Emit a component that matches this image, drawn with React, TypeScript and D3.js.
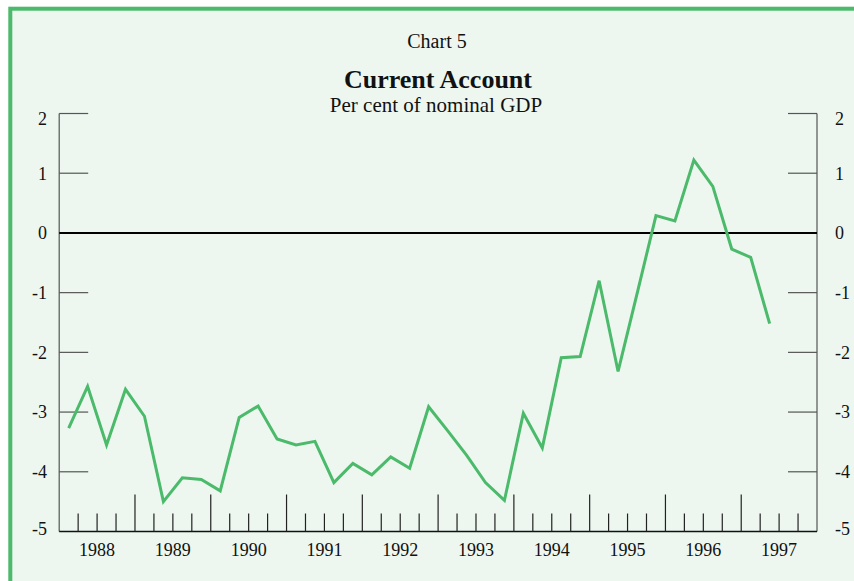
import React from 'react';
import * as d3 from 'd3';

// quarterly current account balance, per cent of nominal GDP (1988 Q1 .. 1997 Q2)
const years = [1988, 1989, 1990, 1991, 1992, 1993, 1994, 1995, 1996, 1997];
const balance = [
  -3.27, -2.57, -3.55, -2.62,
  -3.07, -4.50, -4.10, -4.13,
  -4.32, -3.09, -2.90, -3.45,
  -3.55, -3.49, -4.18, -3.86,
  -4.05, -3.75, -3.94, -2.91,
  -3.31, -3.72, -4.18, -4.48,
  -3.02, -3.60, -2.09, -2.07,
  -0.80, -2.32, -1.02, 0.29,
  0.20, 1.22, 0.78, -0.27,
  -0.41, -1.52,
];
const yTicks = [2, 1, 0, -1, -2, -3, -4, -5];

const W = 854;
const H = 581;
const LEFT = 59.2;
const RIGHT = 817;
const TOP = 113.5;
const BOTTOM = 531.5;

const GREEN = '#4bba6a';
const BG = '#edf7f0';
const AXIS = '#555';

export default function App() {
  const x = d3.scaleLinear().domain([1988, 1998]).range([LEFT, RIGHT]);
  const y = d3.scaleLinear().domain([-5, 2]).range([BOTTOM, TOP]);

  const pts = balance.map((v, i) => ({ t: 1988 + (i + 0.5) / 4, v }));
  const line = d3.line<{ t: number; v: number }>()
    .x(d => x(d.t))
    .y(d => y(d.v));

  // quarter ticks on the bottom axis
  const quarters = d3.range(1, 40).map(i => 1988 + i / 4);

  const labelShift = (v: number) => (v === 2 ? 5 : v === -5 ? -3 : 0);

  return (
    <svg
      width={W}
      height={H}
      style={{ position: 'absolute', left: 0, top: 0, display: 'block' }}
      fontFamily="'Liberation Serif', 'Times New Roman', serif"
    >
      <rect x={0} y={0} width={W} height={H} fill="#fff" />
      <rect x={10.3} y={8.7} width={W + 20} height={H + 20} fill={BG} stroke={GREEN} strokeWidth={4} />

      {/* titles */}
      <text x={437} y={48} textAnchor="middle" fontSize={20} fill="#111">Chart 5</text>
      <text x={438} y={88} textAnchor="middle" fontSize={26} fontWeight="bold" fill="#111">Current Account</text>
      <text x={436} y={112} textAnchor="middle" fontSize={21} fill="#111">Per cent of nominal GDP</text>

      {/* y axes */}
      <line x1={LEFT} x2={LEFT} y1={TOP} y2={BOTTOM} stroke={AXIS} strokeWidth={1.2} />
      <line x1={RIGHT} x2={RIGHT} y1={TOP} y2={BOTTOM} stroke={AXIS} strokeWidth={1.2} />
      {yTicks.map(v => (
        <g key={v}>
          {v > -5 && v !== 0 && (
            <>
              <line x1={LEFT} x2={LEFT + 29} y1={y(v)} y2={y(v)} stroke={AXIS} strokeWidth={1.2} />
              <line x1={RIGHT - 29} x2={RIGHT} y1={y(v)} y2={y(v)} stroke={AXIS} strokeWidth={1.2} />
            </>
          )}
          <text x={47} y={y(v) + labelShift(v)} dy="0.35em" textAnchor="end" fontSize={18} fill="#111">{v}</text>
          <text x={835} y={y(v) + labelShift(v)} dy="0.35em" textAnchor="start" fontSize={18} fill="#111">{v}</text>
        </g>
      ))}

      {/* zero line */}
      <line x1={LEFT} x2={RIGHT} y1={y(0)} y2={y(0)} stroke="#000" strokeWidth={2} />

      {/* bottom axis */}
      <line x1={LEFT} x2={RIGHT} y1={BOTTOM} y2={BOTTOM} stroke="#111" strokeWidth={1.5} />
      {quarters.map((q, i) => {
        const major = (i + 1) % 4 === 0;
        return (
          <line
            key={q}
            x1={x(q)}
            x2={x(q)}
            y1={BOTTOM}
            y2={BOTTOM - (major ? 37 : 18)}
            stroke="#222"
            strokeWidth={1.2}
          />
        );
      })}
      {years.map(yr => (
        <text key={yr} x={x(yr + 0.5)} y={556} textAnchor="middle" fontSize={18} fill="#111">{yr}</text>
      ))}

      {/* series */}
      <path d={line(pts) || ''} fill="none" stroke={GREEN} strokeWidth={3} strokeLinejoin="miter" />
    </svg>
  );
}
